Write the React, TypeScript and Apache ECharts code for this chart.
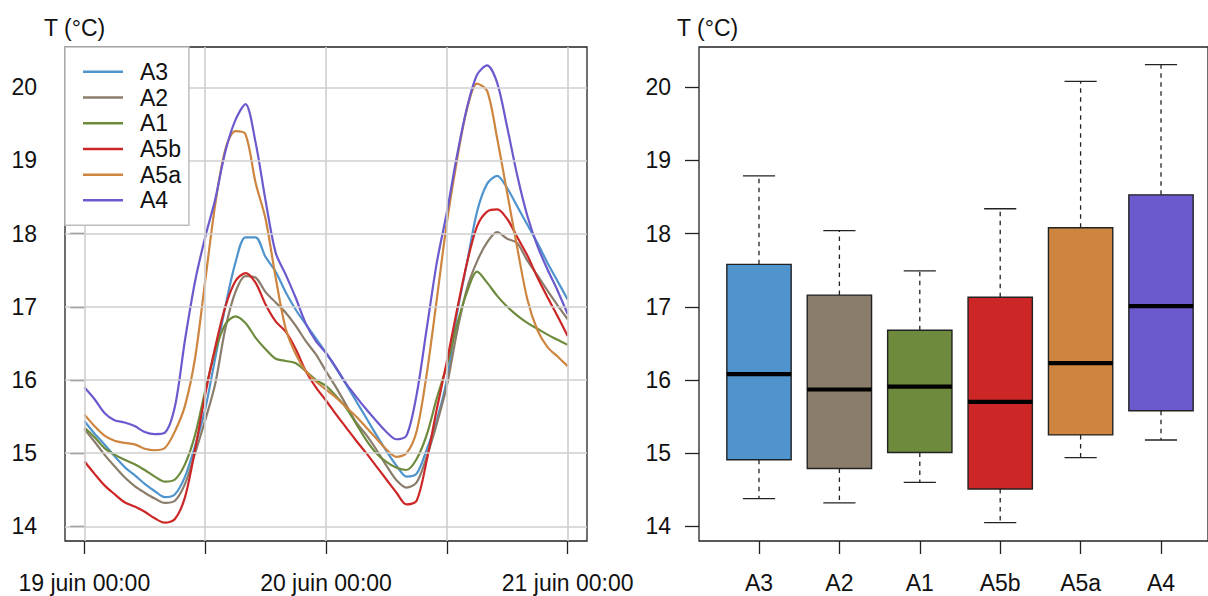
import React, { useEffect, useRef } from 'react';
import * as echarts from 'echarts';

const seriesNames = ['A3', 'A2', 'A1', 'A5b', 'A5a', 'A4'];
const seriesColors = ['#4F94CD', '#8B7D6B', '#6E8B3D', '#CD2626', '#CD853F', '#6A5ACD'];

const hourTicks = [0, 12, 24, 36, 48];
const dateLabelHours = [0, 24, 48];
const dateLabels = ['19 juin 00:00', '20 juin 00:00', '21 juin 00:00'];
const tempTicks = [14, 15, 16, 17, 18, 19, 20];

// hourly temperatures, 19 juin 00:00 -> 21 juin 00:00
const A3 = [15.44, 15.27, 15.12, 14.96, 14.81, 14.70, 14.58, 14.48, 14.40, 14.44,
  14.68, 15.10, 15.60, 16.30, 17.00, 17.60, 17.95, 17.95, 17.68, 17.48,
  17.20, 16.96, 16.76, 16.57, 16.37, 16.16, 15.94, 15.71, 15.48, 15.25,
  15.03, 14.83, 14.68, 14.72, 15.05, 15.45, 16.00, 16.90, 17.60, 18.30,
  18.68, 18.79, 18.62, 18.37, 18.12, 17.87, 17.60, 17.35, 17.10];
const A2 = [15.33, 15.16, 14.98, 14.82, 14.67, 14.55, 14.46, 14.38, 14.32, 14.35,
  14.58, 15.00, 15.45, 15.95, 16.70, 17.20, 17.42, 17.40, 17.20, 17.06,
  16.92, 16.74, 16.53, 16.35, 16.12, 15.90, 15.66, 15.42, 15.25, 15.05,
  14.83, 14.63, 14.53, 14.60, 14.95, 15.40, 15.92, 16.65, 17.25, 17.62,
  17.88, 18.02, 17.93, 17.87, 17.63, 17.43, 17.22, 17.02, 16.83];
const A1 = [15.35, 15.22, 15.07, 14.98, 14.91, 14.85, 14.77, 14.68, 14.61, 14.64,
  14.85, 15.25, 15.85, 16.40, 16.76, 16.87, 16.78, 16.58, 16.42, 16.29,
  16.26, 16.23, 16.12, 16.00, 15.92, 15.78, 15.62, 15.40, 15.18, 15.00,
  14.88, 14.80, 14.77, 14.92, 15.25, 15.75, 16.20, 16.75, 17.20, 17.48,
  17.33, 17.15, 17.00, 16.88, 16.78, 16.70, 16.62, 16.55, 16.48];
const A5b = [14.89, 14.72, 14.56, 14.44, 14.33, 14.27, 14.20, 14.11, 14.05, 14.10,
  14.40, 15.05, 15.80, 16.45, 17.00, 17.35, 17.46, 17.33, 17.03, 16.80,
  16.66, 16.42, 16.12, 15.90, 15.72, 15.53, 15.35, 15.17, 15.00, 14.82,
  14.64, 14.46, 14.30, 14.35, 14.90, 15.60, 16.25, 16.95, 17.60, 18.10,
  18.30, 18.33, 18.20, 17.95, 17.70, 17.40, 17.13, 16.87, 16.60];
const A5a = [15.53, 15.37, 15.24, 15.17, 15.14, 15.12, 15.06, 15.04, 15.07, 15.30,
  15.65, 16.30, 17.35, 18.40, 19.15, 19.40, 19.36, 18.70, 18.20, 17.40,
  16.70, 16.35, 16.12, 15.98, 15.87, 15.76, 15.63, 15.50, 15.35, 15.20,
  15.05, 14.95, 15.00, 15.30, 16.08, 17.10, 18.15, 19.00, 19.70, 20.05,
  19.95, 19.30, 18.55, 17.80, 17.10, 16.68, 16.45, 16.32, 16.19];
const A4 = [15.90, 15.74, 15.55, 15.45, 15.42, 15.37, 15.29, 15.26, 15.28, 15.64,
  16.55, 17.35, 17.95, 18.47, 19.12, 19.55, 19.77, 19.25, 18.45, 17.74,
  17.44, 17.12, 16.77, 16.53, 16.37, 16.17, 15.95, 15.77, 15.60, 15.44,
  15.29, 15.19, 15.24, 15.80, 16.70, 17.60, 18.29, 19.06, 19.72, 20.17,
  20.30, 20.06, 19.45, 18.79, 18.24, 17.83, 17.51, 17.22, 16.90];
const seriesValues = [A3, A2, A1, A5b, A5a, A4];

// boxplot statistics (same order as seriesNames)
const boxLow = [14.38, 14.32, 14.60, 14.05, 14.94, 15.18];
const boxQ1 = [14.91, 14.79, 15.01, 14.51, 15.25, 15.58];
const boxMedian = [16.08, 15.87, 15.91, 15.70, 16.23, 17.01];
const boxQ3 = [17.58, 17.16, 16.68, 17.13, 18.08, 18.53];
const boxHigh = [18.79, 18.04, 17.49, 18.34, 20.08, 20.31];

const FONT = '"Liberation Sans", Arial, Helvetica, sans-serif';
const Y_MIN = 13.8;
const Y_MAX = 20.55;
const X_MIN = -1.92;
const X_MAX = 49.92;

export default function App() {
  const ref = useRef<HTMLDivElement>(null);
  useEffect(() => {
    const chart = echarts.init(ref.current as HTMLDivElement, null, { renderer: 'svg' });
    const tickStyle = { color: '#222', width: 1.3 };
    const labelStyle = { fontSize: 23, color: '#111', fontFamily: FONT };

    const lineSeries = seriesNames.map((name, i) => ({
      name,
      type: 'line',
      xAxisIndex: 0,
      yAxisIndex: 0,
      data: seriesValues[i].map((v, h) => [h, v]),
      showSymbol: false,
      symbol: 'none',
      smooth: 0.3,
      lineStyle: { width: 2.2, color: seriesColors[i] },
      itemStyle: { color: seriesColors[i] },
      z: 3,
      silent: true,
    }));

    const boxData = seriesNames.map((_, i) => ({
      value: [i, boxLow[i], boxQ1[i], boxMedian[i], boxQ3[i], boxHigh[i]],
      itemStyle: { color: seriesColors[i] },
    }));

    const option: any = {
      animation: false,
      backgroundColor: '#fff',
      textStyle: { fontFamily: FONT },
      grid: [
        { left: 65, top: 47, width: 522, height: 494, show: true, borderColor: '#222', borderWidth: 1.3, backgroundColor: 'transparent' },
        { left: 699, top: 47, width: 522, height: 494, show: true, borderColor: '#222', borderWidth: 1.3, backgroundColor: 'transparent' },
        { left: 718.8, top: 47, width: 482.4, height: 494, show: false },
      ],
      xAxis: [
        {
          gridIndex: 0, type: 'value', min: X_MIN, max: X_MAX,
          axisLine: { show: false },
          axisTick: { show: true, customValues: hourTicks, length: 13, lineStyle: tickStyle },
          axisLabel: {
            customValues: dateLabelHours, margin: 30, ...labelStyle,
            formatter: (v: number) => dateLabels[dateLabelHours.indexOf(v)] ?? '',
          },
          splitLine: { show: false },
        },
        { gridIndex: 1, type: 'value', min: 0, max: 1, show: false },
        {
          gridIndex: 2, type: 'category', data: seriesNames, boundaryGap: true,
          axisLine: { show: false },
          axisTick: { show: true, alignWithLabel: true, length: 13, lineStyle: tickStyle },
          axisLabel: { margin: 30, interval: 0, ...labelStyle },
          splitLine: { show: false },
        },
      ],
      yAxis: [
        {
          gridIndex: 0, type: 'value', min: Y_MIN, max: Y_MAX,
          axisLine: { show: false },
          axisTick: { show: true, customValues: tempTicks, length: 14, lineStyle: tickStyle },
          axisLabel: { customValues: tempTicks, margin: 28, ...labelStyle },
          splitLine: { show: false },
        },
        {
          gridIndex: 1, type: 'value', min: Y_MIN, max: Y_MAX,
          axisLine: { show: false },
          axisTick: { show: true, customValues: tempTicks, length: 14, lineStyle: tickStyle },
          axisLabel: { customValues: tempTicks, margin: 28, ...labelStyle },
          splitLine: { show: false },
        },
        { gridIndex: 2, type: 'value', min: Y_MIN, max: Y_MAX, show: false },
      ],
      legend: {
        data: seriesNames,
        orient: 'vertical',
        left: 65,
        top: 47,
        selectedMode: false,
        icon: 'rect',
        itemWidth: 40,
        itemHeight: 2.5,
        itemGap: 0,
        padding: [12, 8, 12, 18],
        backgroundColor: '#fff',
        borderColor: '#bdbdbd',
        borderWidth: 1.5,
        borderRadius: 0,
        textStyle: { fontSize: 23, lineHeight: 25.7, color: '#111', fontFamily: FONT, padding: [0, 0, 0, 12] },
        z: 10,
      },
      graphic: [
        { type: 'text', x: 44, y: 28, style: { text: 'T (°C)', fontSize: 23, fontFamily: FONT, fill: '#111', verticalAlign: 'middle', align: 'left' } },
        { type: 'text', x: 677, y: 28, style: { text: 'T (°C)', fontSize: 23, fontFamily: FONT, fill: '#111', verticalAlign: 'middle', align: 'left' } },
      ],
      series: [
        {
          name: '_grid',
          type: 'line',
          xAxisIndex: 0,
          yAxisIndex: 0,
          data: [],
          z: 1,
          silent: true,
          markLine: {
            silent: true,
            symbol: ['none', 'none'],
            label: { show: false },
            lineStyle: { color: '#cfcfcf', width: 1.6, type: 'solid' },
            data: [
              ...hourTicks.map((h) => ({ xAxis: h })),
              ...tempTicks.map((t) => ({ yAxis: t })),
            ],
          },
        },
        ...lineSeries,
        {
          name: 'box',
          type: 'custom',
          xAxisIndex: 2,
          yAxisIndex: 2,
          silent: true,
          encode: { x: 0, y: [1, 2, 3, 4, 5] },
          data: boxData,
          z: 3,
          renderItem: (params: any, api: any) => {
            const idx = api.value(0);
            const low = api.coord([idx, api.value(1)]);
            const q1 = api.coord([idx, api.value(2)]);
            const med = api.coord([idx, api.value(3)]);
            const q3 = api.coord([idx, api.value(4)]);
            const high = api.coord([idx, api.value(5)]);
            const band = api.size([1, 0])[0];
            const bw = band * 0.8;
            const cx = med[0];
            const cap = bw / 4;
            const color = api.visual('color');
            const dash = { stroke: '#222', lineWidth: 1.3, lineDash: [4.5, 4.5] };
            const solid = { stroke: '#222', lineWidth: 1.3 };
            return {
              type: 'group',
              children: [
                { type: 'line', shape: { x1: cx, y1: q3[1], x2: cx, y2: high[1] }, style: dash },
                { type: 'line', shape: { x1: cx, y1: q1[1], x2: cx, y2: low[1] }, style: dash },
                { type: 'line', shape: { x1: cx - cap, y1: high[1], x2: cx + cap, y2: high[1] }, style: solid },
                { type: 'line', shape: { x1: cx - cap, y1: low[1], x2: cx + cap, y2: low[1] }, style: solid },
                { type: 'rect', shape: { x: cx - bw / 2, y: q3[1], width: bw, height: q1[1] - q3[1] }, style: { fill: color, stroke: '#222', lineWidth: 1.4 } },
                { type: 'line', shape: { x1: cx - bw / 2, y1: med[1], x2: cx + bw / 2, y2: med[1] }, style: { stroke: '#000', lineWidth: 4.2 } },
              ],
            };
          },
        },
      ],
    };
    chart.setOption(option);
    return () => chart.dispose();
  }, []);
  return (
    <div
      ref={ref}
      style={{ position: 'absolute', left: 0, top: 0, width: 1208, height: 596, background: '#fff' }}
    />
  );
}
